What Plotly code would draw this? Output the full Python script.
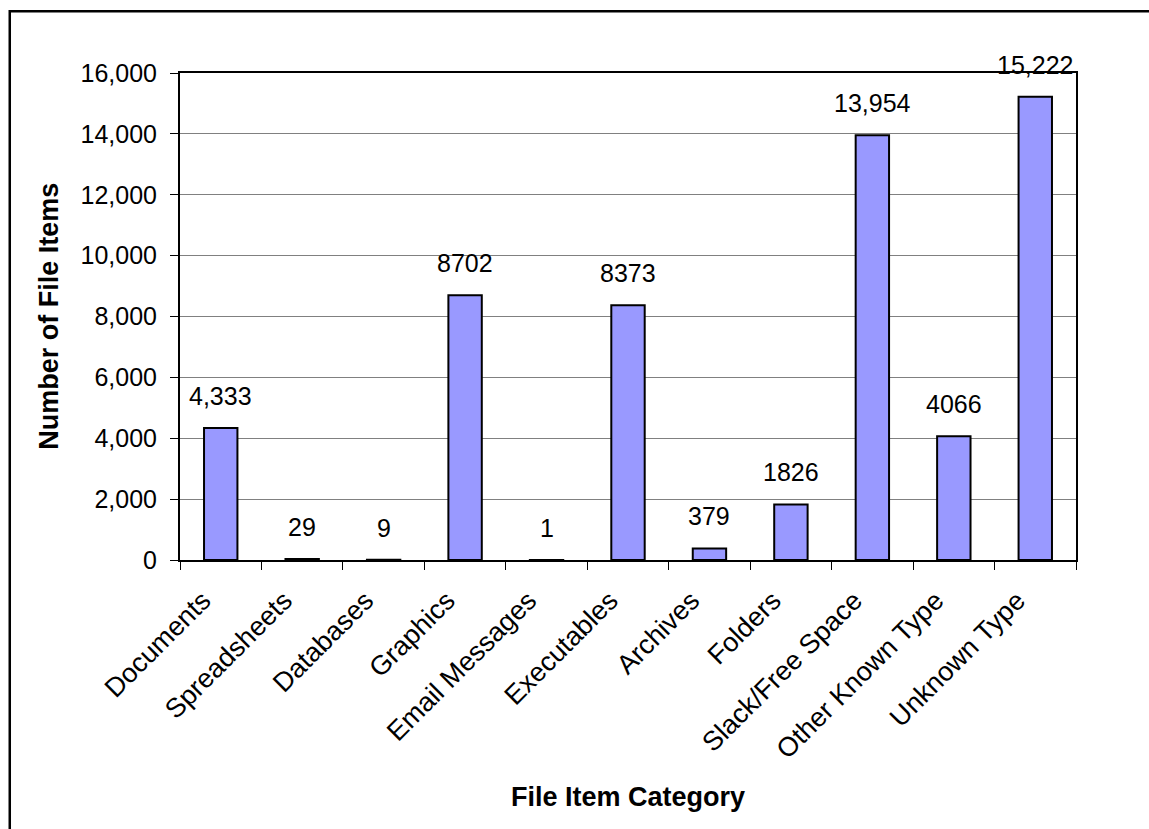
import plotly.graph_objects as go

categories = ["Documents", "Spreadsheets", "Databases", "Graphics", "Email Messages",
              "Executables", "Archives", "Folders", "Slack/Free Space", "Other Known Type",
              "Unknown Type"]
values = [4333, 29, 9, 8702, 1, 8373, 379, 1826, 13954, 4066, 15222]
value_labels = ["4,333", "29", "9", "8702", "1", "8373", "379", "1826", "13,954", "4066", "15,222"]
y_ticks = [0, 2000, 4000, 6000, 8000, 10000, 12000, 14000, 16000]
y_tick_labels = ["0", "2,000", "4,000", "6,000", "8,000", "10,000", "12,000", "14,000", "16,000"]

FONT = "Liberation Sans, Arial, sans-serif"

fig = go.Figure()
fig.add_trace(go.Bar(
    x=categories, y=values,
    marker=dict(color="#9999FF", line=dict(color="black", width=2)),
    width=0.41,
    hoverinfo="x+y",
))

for c, v, t in zip(categories, values, value_labels):
    fig.add_annotation(x=c, y=v, text=t, showarrow=False, yanchor="bottom",
                       yshift=16, font=dict(family=FONT, size=25, color="black"))

fig.update_layout(
    width=1149, height=829,
    margin=dict(l=180, r=73, t=73, b=269),
    paper_bgcolor="white", plot_bgcolor="white",
    showlegend=False,
    font=dict(family=FONT, size=24, color="black"),
)
fig.update_xaxes(
    tickangle=-45, tickfont=dict(family=FONT, size=27),
    showline=True, linecolor="black", linewidth=2, mirror=True,
    ticks="outside", ticklen=8, tickcolor="black", tickson="boundaries",
    showgrid=False, ticklabelstandoff=12, ticklabelshift=-18,
)
fig.update_yaxes(
    range=[0, 16000], tickvals=y_ticks, ticktext=y_tick_labels,
    tickfont=dict(family=FONT, size=25),
    showline=True, linecolor="black", linewidth=2, mirror=True,
    ticks="outside", ticklen=8, tickcolor="black", ticklabelstandoff=8,
    showgrid=True, gridcolor="#808080", gridwidth=1, zeroline=False,
)
fig.add_annotation(xref="paper", yref="paper", x=0.5, y=-0.487, yanchor="middle",
                   text="<b>File Item Category</b>", showarrow=False,
                   font=dict(family=FONT, size=27))
fig.add_annotation(xref="paper", yref="paper", x=-0.147, y=0.5, xanchor="center",
                   text="<b>Number of File Items</b>", textangle=-90, showarrow=False,
                   font=dict(family=FONT, size=27))
fig.add_shape(type="rect", xref="paper", yref="paper", x0=-0.19, x1=1.2, y0=-0.7, y1=1.127,
              line=dict(color="black", width=2.5), layer="below")

fig.write_html("out.html")
